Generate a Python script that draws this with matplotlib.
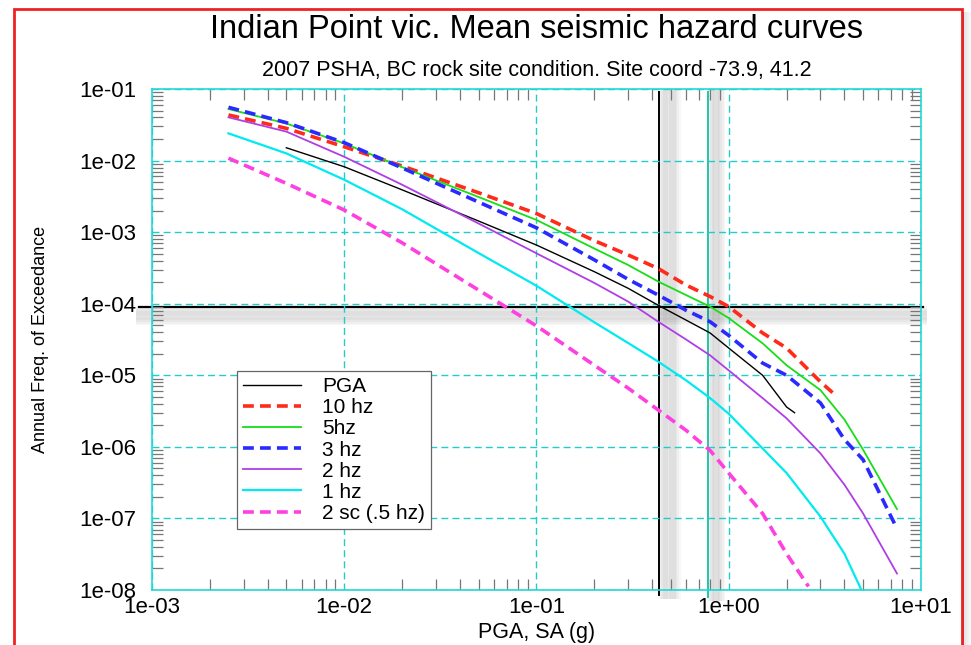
import matplotlib
matplotlib.use("Agg")
import matplotlib.pyplot as plt
import matplotlib.patheffects as pe
from matplotlib.patches import Rectangle
from matplotlib.ticker import FuncFormatter, LogLocator, NullFormatter

plt.rcParams['font.family'] = ['Liberation Sans', 'DejaVu Sans']

# Datos (PGA / SA en g, frecuencia anual de excedencia)
x_std = [0.0025, 0.005, 0.01, 0.02, 0.05, 0.1, 0.2, 0.3, 0.43, 0.6, 0.8, 1.0,
         1.5, 2.0, 3.0, 4.0, 5.0, 7.5]

x_pga = [0.005, 0.01, 0.02, 0.05, 0.1, 0.2, 0.3, 0.43, 0.6, 0.8, 1.0, 1.5, 2.0, 2.2]
y_pga = [1.51e-2, 8.2e-3, 3.9e-3, 1.43e-3, 6.6e-4, 2.8e-4, 1.64e-4, 9.5e-5,
         5.9e-5, 3.9e-5, 2.4e-5, 1.0e-5, 3.6e-6, 3.0e-6]

x_10hz = [0.0025, 0.005, 0.01, 0.02, 0.05, 0.1, 0.2, 0.3, 0.43, 0.6, 0.8, 1.0,
          1.5, 2.0, 3.0, 3.5]
y_10hz = [4.34e-2, 2.82e-2, 1.56e-2, 8.4e-3, 3.55e-3, 1.82e-3, 7.6e-4, 4.8e-4,
          3.1e-4, 1.82e-4, 1.26e-4, 9.1e-5, 3.9e-5, 2.4e-5, 8.1e-6, 5.6e-6]

y_5hz = [5.25e-2, 3.3e-2, 1.74e-2, 8.1e-3, 3.1e-3, 1.48e-3, 5.9e-4, 3.47e-4,
         2.04e-4, 1.32e-4, 9.1e-5, 6.3e-5, 2.8e-5, 1.38e-5, 6.2e-6, 2.4e-6,
         9.1e-7, 1.35e-7]

y_3hz = [5.55e-2, 3.39e-2, 1.78e-2, 7.9e-3, 2.63e-3, 1.15e-3, 4.1e-4, 2.19e-4,
         1.32e-4, 8.1e-5, 5.6e-5, 3.6e-5, 1.48e-5, 1.0e-5, 4.1e-6, 1.26e-6,
         6.6e-7, 7.2e-8]

y_2hz = [4.02e-2, 2.54e-2, 1.13e-2, 4.6e-3, 1.32e-3, 5.06e-4, 1.95e-4, 1.07e-4,
         5.6e-5, 3.16e-5, 1.9e-5, 1.17e-5, 4.8e-6, 2.5e-6, 8.1e-7, 2.95e-7,
         1.17e-7, 1.7e-8]

x_1hz = [0.0025, 0.005, 0.01, 0.02, 0.05, 0.1, 0.2, 0.3, 0.43, 0.6, 0.8, 1.0,
         1.5, 2.0, 3.0, 4.0, 4.9]
y_1hz = [2.4e-2, 1.26e-2, 5.4e-3, 2.09e-3, 5.1e-4, 1.78e-4, 5.5e-5, 2.82e-5,
         1.55e-5, 8.5e-6, 4.8e-6, 2.9e-6, 9.5e-7, 4.3e-7, 1.06e-7, 3.2e-8, 1.0e-8]

x_05hz = [0.0025, 0.005, 0.01, 0.02, 0.05, 0.1, 0.2, 0.3, 0.43, 0.6, 0.8, 1.0,
          1.5, 2.0, 2.6]
y_05hz = [1.08e-2, 4.8e-3, 2.04e-3, 7.1e-4, 1.55e-4, 4.9e-5, 1.38e-5, 6.6e-6,
          3.27e-6, 1.7e-6, 8.9e-7, 4.3e-7, 1.17e-7, 3.2e-8, 1.12e-8]

x_ticks = [1e-3, 1e-2, 1e-1, 1e0, 1e1]
y_ticks = [1e-8, 1e-7, 1e-6, 1e-5, 1e-4, 1e-3, 1e-2, 1e-1]

x_sa_line = 0.434    # linea vertical negra
x_f0_line = 0.78     # linea vertical verde agua
y_afe_line = 9.0e-5  # linea horizontal


def sombra(dx, dy, n=10, paso=1.3, alpha=0.03, lw=5):
    efectos = []
    for i in range(1, n + 1):
        efectos.append(pe.SimpleLineShadow(offset=(dx * i * paso, dy * i * paso),
                                           shadow_color='k', alpha=alpha,
                                           rho=1.0, linewidth=lw))
    efectos.append(pe.Normal())
    return efectos


fig = plt.figure(figsize=(9.71, 6.45), dpi=100)
ax = fig.add_axes([0.1565, 0.0853, 0.7920, 0.7767])
ax.set_xscale('log')
ax.set_yscale('log')

# curvas
ax.plot(x_pga, y_pga, color='black', lw=1.0, label='PGA')
ax.plot(x_10hz, y_10hz, color='#ff2a1a', lw=2.6, dashes=(3, 1.7), label='10 hz')
ax.plot(x_std, y_5hz, color='#18dd18', lw=1.3, label='5hz')
ax.plot(x_std, y_3hz, color='#2a2aff', lw=2.6, dashes=(3, 1.7), label='3 hz')
ax.plot(x_std, y_2hz, color='#b03ee6', lw=1.3, label='2 hz')
ax.plot(x_1hz, y_1hz, color='#00eaf0', lw=1.6, label='1 hz')
ax.plot(x_05hz, y_05hz, color='#ff40e0', lw=2.6, dashes=(3, 1.7), label='2 sc (.5 hz)')

# lineas de referencia con sombra
ax.plot([x_sa_line, x_sa_line], [8.5e-9, 9.0e-2], color='black', lw=1.4,
        clip_on=False, path_effects=sombra(1, 0), zorder=1)
ax.plot([x_f0_line, x_f0_line], [8.0e-9, 9.0e-2], color='#1fc8a8', lw=1.4,
        clip_on=False, path_effects=sombra(1, 0, n=8, paso=1.2), zorder=1)
ax.plot([8.6e-4, 10.3], [y_afe_line, y_afe_line], color='black', lw=1.6,
        clip_on=False, path_effects=sombra(0, -1, n=8, paso=1.3), zorder=1)

ax.set_xlim(1e-3, 1e1)
ax.set_ylim(1e-8, 1e-1)

# grilla y ejes
ax.grid(True, which='major', color='#22cccc', ls=(0, (5, 3)), lw=1.0)
for s in ax.spines.values():
    s.set_color('#22d8d8')
    s.set_linewidth(1.2)
ax.set_xticks(x_ticks)
ax.set_yticks(y_ticks)
ax.xaxis.set_minor_locator(LogLocator(base=10, subs=range(2, 10), numticks=20))
ax.yaxis.set_minor_locator(LogLocator(base=10, subs=range(2, 10), numticks=20))
ax.xaxis.set_minor_formatter(NullFormatter())
ax.yaxis.set_minor_formatter(NullFormatter())
fmt = FuncFormatter(lambda v, p: f'{v:.0e}')
ax.xaxis.set_major_formatter(fmt)
ax.yaxis.set_major_formatter(fmt)
ax.tick_params(which='both', direction='in', top=True, right=True, color='#777777')
ax.tick_params(which='major', length=0, labelsize=16)
ax.tick_params(axis='y', which='major', pad=11)
ax.tick_params(axis='x', which='major', pad=5)
ax.tick_params(which='minor', length=8, width=0.9)

ax.set_xlabel('PGA, SA (g)', fontsize=15.5, labelpad=3)
ax.set_ylabel('Annual Freq. of Exceedance', fontsize=13, labelpad=22)

fig.text(0.553, 0.955, 'Indian Point vic. Mean seismic hazard curves',
         ha='center', va='center', fontsize=23.5)
fig.text(0.553, 0.89, '2007 PSHA, BC rock site condition. Site coord -73.9, 41.2',
         ha='center', va='center', fontsize=15.5)

leg = ax.legend(loc='upper left', bbox_to_anchor=(0.11, 0.437), fontsize=15,
                fancybox=False, framealpha=1, edgecolor='#666666',
                handlelength=2.8, labelspacing=0.1, borderpad=0.3,
                handletextpad=1.0, borderaxespad=0)
leg.get_frame().set_linewidth(0.9)

# marco rojo y sombra a la derecha
fig.patches.append(Rectangle((14 / 971, -0.02), 948 / 971, 1.02 - 9 / 645,
                             transform=fig.transFigure, fill=False,
                             edgecolor='#ee2222', lw=2))
for i in range(8):
    fig.patches.append(Rectangle(((963 + i) / 971, 0), 1 / 971, 1 - 12 / 645,
                                 transform=fig.transFigure, color='k',
                                 alpha=0.12 - i * 0.014, lw=0))

fig.savefig('out.png', dpi=100)
